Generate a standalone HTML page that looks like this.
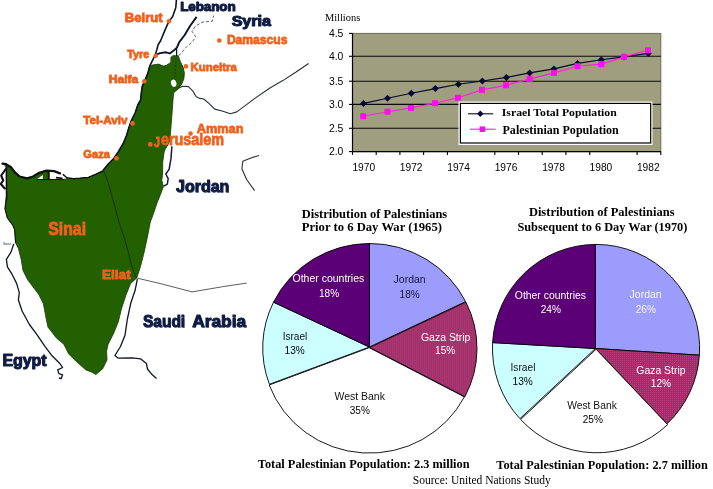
<!DOCTYPE html>
<html><head><meta charset="utf-8"><title>Map and charts</title>
<style>
html,body{margin:0;padding:0;background:#fff;}
body{width:713px;height:489px;overflow:hidden;font-family:"Liberation Sans",sans-serif;}
svg{display:block;font-family:"Liberation Sans",sans-serif;will-change:transform;}
</style></head><body>
<svg width="713" height="489" viewBox="0 0 713 489">
<rect width="713" height="489" fill="#fff"/>
<g>
<path d="M172.6,55.7 L178.2,55.7 L180.5,61.9 L183.3,67.5 L184.4,73.1 L183.9,78.7 L181.6,84.4 L178.2,88.9 L173.7,92.8 L173.0,100.0 L172.7,103.9 L171.8,116.8 L170.9,127.9 L169.9,140.7 L167.2,146.3 L164.4,151.0 L162.7,162.0 L162.7,173.1 L161.8,180.5 L163.6,186.0 L160.9,193.4 L157.2,202.6 L153.5,213.6 L150.3,222.0 L147.9,234.7 L144.2,251.9 L140.5,266.6 L136.8,277.9 L130.6,283.5 L126.1,294.8 L121.6,308.3 L118.3,321.8 L113.8,333.0 L108.1,344.3 L106.6,351.0 L107.0,360.0 L102.5,369.0 L95.8,374.6 L92.4,372.4 L85.9,369.9 L76.1,361.3 L68.7,354.0 L63.8,344.2 L56.4,338.0 L47.9,327.0 L45.4,314.7 L45.1,312.8 L43.3,303.6 L38.7,294.4 L33.1,287.0 L27.6,279.7 L23.0,270.5 L21.2,259.4 L18.4,248.4 L15.6,242.9 L14.7,230.0 L12.9,225.5 L7.4,218.1 L5.0,208.9 L5.5,201.5 L7.4,190.5 L6.4,179.4 L6.7,167.3 L3.0,163.4 L6.1,164.2 L11.0,167.3 L14.7,172.2 L19.6,176.5 L27.0,178.3 L33.1,176.5 L39.3,172.8 L46.6,170.7 L49.4,171.0 L49.2,179.4 L64.0,179.4 L66.9,178.6 L73.6,178.8 L80.0,178.4 L88.3,177.6 L95.5,174.6 L102.9,171.3 L108.5,164.5 L113.9,158.6 L118.5,151.5 L123.2,143.5 L126.5,135.6 L128.5,128.9 L131.1,121.0 L135.1,113.0 L137.8,105.0 L140.6,100.0 L141.1,94.5 L142.2,86.6 L145.1,79.9 L147.9,73.1 L149.6,66.4 L152.4,65.0 L158.6,64.1 L160.8,65.0 L163.6,66.1 L166.4,65.2 L169.2,63.6 L170.9,61.9 L170.9,57.4Z" fill="#236001" stroke="#1a3a0a" stroke-width="0.8" stroke-linejoin="round"/>
<path d="M37,179.2 L42.8,179.2 L42.8,175 Z" fill="#fff"/>
<path d="M167.4,146.4 L171.9,146.4 L171.0,158.4 L169.1,169.4 L165.8,174.0 L168.2,178.6 L167.3,184.2 L163.8,186.2 L162.8,180.5 L163.9,173.1 L164.0,162.0 L165.0,151.0Z" fill="#fff"/>
<path d="M171.9,146.4 L171.0,158.4 L169.1,169.4 L165.8,174.0 L168.2,178.6 L167.3,184.2 L163.8,186.2" fill="none" stroke="#141c40" stroke-width="1.5" stroke-linejoin="round"/>
<ellipse cx="173.7" cy="83.2" rx="2.7" ry="3.7" fill="#fff" transform="rotate(-15 173.7 83.2)"/>
<path d="M176.4,0.0 L175.8,7.4 L172.7,16.6 L169.0,21.2 L165.3,29.4 L160.7,40.5 L158.0,45.0 L156.9,49.5 L155.2,55.1 L152.4,60.7 L149.6,66.4 L147.9,73.1 L145.1,79.9 L142.2,86.6 L141.1,94.5 L140.6,100.0 L137.8,105.0 L135.1,113.0 L131.1,121.0 L128.5,128.9 L126.5,135.6 L123.2,143.5 L118.5,151.5 L113.9,158.2 L108.5,163.8 L102.9,170.6" fill="none" stroke="#101426" stroke-width="1.6" stroke-linejoin="round"/>
<path d="M155.7,54.6 L160.2,53.1 L165.9,52.3 L169.8,53.4 L173.7,50.6 L176.8,47.8 L179.1,42.3 L184.7,35.0 L190.2,25.8 L196.6,16.9" fill="none" stroke="#101426" stroke-width="1.9" stroke-linejoin="round"/>
<path d="M176.6,49 L176.6,56" stroke="#101426" stroke-width="1.2"/>
<path d="M176,58 L174.9,78" stroke="#173a0c" stroke-width="0.9" stroke-dasharray="2 1.5" fill="none"/>
<path d="M178.8,55.7 L186.5,46.9 L192.0,42.3 L195.7,36.8 L192.0,31.3 L195.7,25.8 L203.0,22.0 L212.3,21.2 L213.7,15.6" fill="none" stroke="#454c6c" stroke-width="0.9" stroke-dasharray="3 2"/>
<path d="M178.2,88.3 L182.7,86.2 L188.4,86.6 L192.9,91.1 L196.2,96.7 L200.0,98.4 L203.7,99.0 L209.2,103.6 L214.7,109.1 L222.1,111.0 L230.4,113.7 L236.8,111.9 L244.2,106.4 L255.2,98.1 L269.9,88.0 L282.8,80.6 L295.7,72.3 L308.6,63.5" fill="none" stroke="#2a2d3c" stroke-width="1.1" stroke-linejoin="round"/>
<path d="M259.1,155.4 L250.9,158.0 L242.8,161.2 L241.9,168.7 L246.6,179.5 L254.6,190.6" fill="none" stroke="#2a2d3c" stroke-width="1.1" stroke-linejoin="round"/>
<path d="M137.3,278.2 L161.3,283.8 L192.0,291.9 L222.7,286.7 L246.7,283.1" fill="none" stroke="#4a4a4a" stroke-width="0.9"/>
<path d="M137.4,279.0 L135.1,290.3 L130.6,303.8 L127.3,319.5 L125.0,335.3 L120.5,346.5 L114.9,355.5 L118.3,358.2 L131.8,357.8 L140.8,358.9 L146.4,363.4 L147.5,369.0 L152.0,374.6 L156.5,378.5" fill="none" stroke="#101426" stroke-width="1.3" stroke-linejoin="round"/>
<path d="M13.8,243.8 L11.0,252.1 L6.4,259.4 L7.4,266.8 L12.0,274.2 L16.6,283.4 L19.3,292.6 L18.4,300.0 L22.1,311.0 L29.4,324.5 L36.8,334.4 L44.2,345.4 L51.5,355.2 L60.1,363.8 L62.6,367.5 L57.7,369.9 L58.9,373.6 L62.6,374.8 L61.3,378.5 L58.9,378.0" fill="none" stroke="#101426" stroke-width="1.3" stroke-linejoin="round"/>
<path d="M103.8,171.3 L107.5,180.5 L111.2,193.4 L114.8,206.3 L117.6,217.3 L120.4,226.5 L123.3,234.7 L128.2,251.9 L131.9,266.6 L136.3,277.7" fill="none" stroke="#112a08" stroke-width="0.8"/>
<path d="M2.5,163.6 L6.1,164.2 L11.0,167.3 L14.7,172.2 L19.6,176.5 L27.0,178.3 L33.1,176.5 L39.3,172.8 L46.6,170.7 L54.0,171.2 L60.1,173.4" fill="none" stroke="#111" stroke-width="2.3" stroke-linejoin="round" stroke-linecap="round"/>
<path d="M63.2,174.6 L66.9,177.7 L73.6,178.6 L80.0,178.3 L88.3,177.4 L95.5,174.4 L102.9,171.0" fill="none" stroke="#111" stroke-width="1.4" stroke-linejoin="round" stroke-linecap="round"/>
<path d="M48.3,172 L48.6,178.8 M56,177.6 L62.5,178.4" stroke="#111" stroke-width="1.6" fill="none"/>
<path d="M36.8,179.5 L64.0,179.6" fill="none" stroke="#111" stroke-width="1" />
<path d="M6.3,166 L6.6,200" stroke="#111" stroke-width="1.5" fill="none"/>
<path d="M5.8,169 L1.2,175.5 L3.2,180.5 L0.8,184 L4.8,188.5" stroke="#111" stroke-width="2.1" fill="none" stroke-linejoin="round" stroke-linecap="round"/>
<path d="M6.4,200.0 L5.0,208.9 L7.4,218.1 L12.9,225.5 L14.7,230.0 L15.6,242.9" fill="none" stroke="#111" stroke-width="1.0"/>
<circle cx="169" cy="21.2" r="2.3" fill="#f3601b"/>
<circle cx="155.7" cy="55.7" r="2.3" fill="#f3601b"/>
<circle cx="144.3" cy="81.2" r="2.3" fill="#f3601b"/>
<circle cx="185.9" cy="66.4" r="2.3" fill="#f3601b"/>
<circle cx="219.3" cy="40.5" r="2.3" fill="#f3601b"/>
<circle cx="132.5" cy="123.4" r="2.3" fill="#f3601b"/>
<circle cx="116.5" cy="158.2" r="2.3" fill="#f3601b"/>
<circle cx="150.3" cy="144.4" r="2.3" fill="#f3601b"/>
<circle cx="190.5" cy="133.6" r="2.3" fill="#f3601b"/>
<text x="124.8" y="22.2" font-size="11.9" font-weight="bold" fill="#f3601b" textLength="37.8" lengthAdjust="spacingAndGlyphs" stroke="#f3601b" stroke-width="0.8" stroke-linejoin="round">Beirut</text>
<text x="127.2" y="57.7" font-size="11" font-weight="bold" fill="#f3601b" textLength="22.1" lengthAdjust="spacingAndGlyphs" stroke="#f3601b" stroke-width="0.8" stroke-linejoin="round">Tyre</text>
<text x="108.8" y="82.5" font-size="10.8" font-weight="bold" fill="#f3601b" textLength="29.5" lengthAdjust="spacingAndGlyphs" stroke="#f3601b" stroke-width="0.8" stroke-linejoin="round">Haifa</text>
<text x="190.6" y="71.1" font-size="11" font-weight="bold" fill="#f3601b" textLength="46.2" lengthAdjust="spacingAndGlyphs" stroke="#f3601b" stroke-width="0.8" stroke-linejoin="round">Kuneitra</text>
<text x="226.9" y="44.3" font-size="12.9" font-weight="bold" fill="#f3601b" textLength="60.5" lengthAdjust="spacingAndGlyphs" stroke="#f3601b" stroke-width="0.8" stroke-linejoin="round">Damascus</text>
<text x="83.3" y="124.4" font-size="11.5" font-weight="bold" fill="#f3601b" textLength="44.1" lengthAdjust="spacingAndGlyphs" stroke="#f3601b" stroke-width="0.8" stroke-linejoin="round">Tel-Aviv</text>
<text x="83.3" y="158.3" font-size="11.5" font-weight="bold" fill="#f3601b" textLength="26.6" lengthAdjust="spacingAndGlyphs" stroke="#f3601b" stroke-width="0.8" stroke-linejoin="round">Gaza</text>
<text x="196.8" y="132.5" font-size="13" font-weight="bold" fill="#f3601b" textLength="46.6" lengthAdjust="spacingAndGlyphs" stroke="#f3601b" stroke-width="0.8" stroke-linejoin="round">Amman</text>
<text x="153.9" y="147.0" font-size="14.5" font-weight="bold" fill="#f3601b" textLength="6.0" lengthAdjust="spacingAndGlyphs" stroke="#f3601b" stroke-width="0.8" stroke-linejoin="round">J</text>
<text x="160.9" y="145.3" font-size="16.8" font-weight="bold" fill="#f3601b" textLength="63.2" lengthAdjust="spacingAndGlyphs" stroke="#f3601b" stroke-width="0.8" stroke-linejoin="round">erusalem</text>
<text x="48.2" y="234.5" font-size="18" font-weight="bold" fill="#f3601b" textLength="37.9" lengthAdjust="spacingAndGlyphs" stroke="#f3601b" stroke-width="0.8" stroke-linejoin="round">Sinai</text>
<text x="102" y="279.3" font-size="12" font-weight="bold" fill="#f3601b" textLength="28.7" lengthAdjust="spacingAndGlyphs" stroke="#f3601b" stroke-width="0.8" stroke-linejoin="round">Eilat</text>
<text x="180.89999999999998" y="11.1" font-size="12.9" font-weight="bold" fill="#5060a8" opacity="0.6" textLength="55.4" lengthAdjust="spacingAndGlyphs">Lebanon</text>
<text x="180.2" y="10.6" font-size="12.9" font-weight="bold" fill="#0f1c40" textLength="55.4" lengthAdjust="spacingAndGlyphs" stroke="#0f1c40" stroke-width="1.0" stroke-linejoin="round">Lebanon</text>
<text x="232.39999999999998" y="26.1" font-size="14.6" font-weight="bold" fill="#5060a8" opacity="0.6" textLength="39.2" lengthAdjust="spacingAndGlyphs">Syria</text>
<text x="231.7" y="25.6" font-size="14.6" font-weight="bold" fill="#0f1c40" textLength="39.2" lengthAdjust="spacingAndGlyphs" stroke="#0f1c40" stroke-width="1.0" stroke-linejoin="round">Syria</text>
<text x="176.79999999999998" y="192.7" font-size="16.4" font-weight="bold" fill="#5060a8" opacity="0.6" textLength="53.3" lengthAdjust="spacingAndGlyphs">Jordan</text>
<text x="176.1" y="192.2" font-size="16.4" font-weight="bold" fill="#0f1c40" textLength="53.3" lengthAdjust="spacingAndGlyphs" stroke="#0f1c40" stroke-width="1.0" stroke-linejoin="round">Jordan</text>
<text x="143.6" y="327.5" font-size="16.8" font-weight="bold" fill="#5060a8" opacity="0.6" textLength="42.3" lengthAdjust="spacingAndGlyphs">Saudi</text>
<text x="142.9" y="327.0" font-size="16.8" font-weight="bold" fill="#0f1c40" textLength="42.3" lengthAdjust="spacingAndGlyphs" stroke="#0f1c40" stroke-width="1.0" stroke-linejoin="round">Saudi</text>
<text x="192.89999999999998" y="327.5" font-size="16.8" font-weight="bold" fill="#5060a8" opacity="0.6" textLength="53.9" lengthAdjust="spacingAndGlyphs">Arabia</text>
<text x="192.2" y="327.0" font-size="16.8" font-weight="bold" fill="#0f1c40" textLength="53.9" lengthAdjust="spacingAndGlyphs" stroke="#0f1c40" stroke-width="1.0" stroke-linejoin="round">Arabia</text>
<text x="3.2" y="366.4" font-size="16" font-weight="bold" fill="#5060a8" opacity="0.6" textLength="44.1" lengthAdjust="spacingAndGlyphs">Egypt</text>
<text x="2.5" y="365.9" font-size="16" font-weight="bold" fill="#0f1c40" textLength="44.1" lengthAdjust="spacingAndGlyphs" stroke="#0f1c40" stroke-width="1.0" stroke-linejoin="round">Egypt</text>
<text x="3" y="244.5" font-size="3.5" fill="#223">Suez</text>
<rect x="352.5" y="33.4" width="308.29999999999995" height="118.19999999999999" fill="#9f9e7f" stroke="#6e6d55" stroke-width="1"/>
<path d="M349.0,33.4 H352.5" stroke="#000" stroke-width="1.1"/>
<path d="M352.5,56.3 H660.8" stroke="#0a0a0a" stroke-width="1.1"/>
<path d="M349.0,56.3 H352.5" stroke="#000" stroke-width="1.1"/>
<path d="M352.5,81.2 H660.8" stroke="#0a0a0a" stroke-width="1.1"/>
<path d="M349.0,81.2 H352.5" stroke="#000" stroke-width="1.1"/>
<path d="M352.5,104.4 H660.8" stroke="#0a0a0a" stroke-width="1.1"/>
<path d="M349.0,104.4 H352.5" stroke="#000" stroke-width="1.1"/>
<path d="M352.5,128.3 H660.8" stroke="#0a0a0a" stroke-width="1.1"/>
<path d="M349.0,128.3 H352.5" stroke="#000" stroke-width="1.1"/>
<path d="M349.0,151.6 H352.5" stroke="#000" stroke-width="1.1"/>
<path d="M352.5,33.4 V151.6 H660.8" stroke="#000" stroke-width="1.2" fill="none"/>
<path d="M352.5,151.6 V154.9" stroke="#000" stroke-width="1.1"/>
<path d="M376.2,151.6 V154.9" stroke="#000" stroke-width="1.1"/>
<path d="M399.9,151.6 V154.9" stroke="#000" stroke-width="1.1"/>
<path d="M423.6,151.6 V154.9" stroke="#000" stroke-width="1.1"/>
<path d="M447.4,151.6 V154.9" stroke="#000" stroke-width="1.1"/>
<path d="M494.8,151.6 V154.9" stroke="#000" stroke-width="1.1"/>
<path d="M518.5,151.6 V154.9" stroke="#000" stroke-width="1.1"/>
<path d="M542.2,151.6 V154.9" stroke="#000" stroke-width="1.1"/>
<path d="M565.9,151.6 V154.9" stroke="#000" stroke-width="1.1"/>
<path d="M589.7,151.6 V154.9" stroke="#000" stroke-width="1.1"/>
<path d="M637.1,151.6 V154.9" stroke="#000" stroke-width="1.1"/>
<path d="M660.8,151.6 V154.9" stroke="#000" stroke-width="1.1"/>
<text x="343.4" y="37.1" font-size="10.4" text-anchor="end" fill="#000">4.5</text>
<text x="343.4" y="60.0" font-size="10.4" text-anchor="end" fill="#000">4.0</text>
<text x="343.4" y="84.9" font-size="10.4" text-anchor="end" fill="#000">3.5</text>
<text x="343.4" y="108.1" font-size="10.4" text-anchor="end" fill="#000">3.0</text>
<text x="343.4" y="132.0" font-size="10.4" text-anchor="end" fill="#000">2.5</text>
<text x="343.4" y="155.3" font-size="10.4" text-anchor="end" fill="#000">2.0</text>
<text x="363.8" y="170.6" font-size="10.2" text-anchor="middle" fill="#000">1970</text>
<text x="411.2" y="170.6" font-size="10.2" text-anchor="middle" fill="#000">1972</text>
<text x="458.6" y="170.6" font-size="10.2" text-anchor="middle" fill="#000">1974</text>
<text x="506.0" y="170.6" font-size="10.2" text-anchor="middle" fill="#000">1976</text>
<text x="553.5" y="170.6" font-size="10.2" text-anchor="middle" fill="#000">1978</text>
<text x="600.9" y="170.6" font-size="10.2" text-anchor="middle" fill="#000">1980</text>
<text x="648.3" y="170.6" font-size="10.2" text-anchor="middle" fill="#000">1982</text>
<text x="324.9" y="20.7" font-size="10.4" font-family="Liberation Serif" textLength="35.3" lengthAdjust="spacingAndGlyphs">Millions</text>
<path d="M363.5,103.4 L387.5,98.2 L411.3,93.3 L435.3,88.6 L458.4,84.3 L482.4,81.0 L506.4,77.4 L529.6,72.9 L553.9,68.9 L577.5,63.4 L601.3,59.8 L624.0,56.9 L648.3,53.4" fill="none" stroke="#080828" stroke-width="1.1"/>
<path d="M363.5,99.9 L367.0,103.4 L363.5,106.9 L360.0,103.4Z" fill="#080838"/>
<path d="M387.5,94.7 L391.0,98.2 L387.5,101.7 L384.0,98.2Z" fill="#080838"/>
<path d="M411.3,89.8 L414.8,93.3 L411.3,96.8 L407.8,93.3Z" fill="#080838"/>
<path d="M435.3,85.1 L438.8,88.6 L435.3,92.1 L431.8,88.6Z" fill="#080838"/>
<path d="M458.4,80.8 L461.9,84.3 L458.4,87.8 L454.9,84.3Z" fill="#080838"/>
<path d="M482.4,77.5 L485.9,81.0 L482.4,84.5 L478.9,81.0Z" fill="#080838"/>
<path d="M506.4,73.9 L509.9,77.4 L506.4,80.9 L502.9,77.4Z" fill="#080838"/>
<path d="M529.6,69.4 L533.1,72.9 L529.6,76.4 L526.1,72.9Z" fill="#080838"/>
<path d="M553.9,65.4 L557.4,68.9 L553.9,72.4 L550.4,68.9Z" fill="#080838"/>
<path d="M577.5,59.9 L581.0,63.4 L577.5,66.9 L574.0,63.4Z" fill="#080838"/>
<path d="M601.3,56.3 L604.8,59.8 L601.3,63.3 L597.8,59.8Z" fill="#080838"/>
<path d="M624,53.4 L627.5,56.9 L624,60.4 L620.5,56.9Z" fill="#080838"/>
<path d="M648.3,49.9 L651.8,53.4 L648.3,56.9 L644.8,53.4Z" fill="#080838"/>
<path d="M363.2,116.2 L387.5,111.7 L411.0,107.9 L435.0,103.2 L458.0,97.8 L482.0,89.9 L506.0,85.2 L529.6,79.1 L554.0,72.9 L577.5,66.2 L601.3,64.1 L624.0,56.9 L648.0,50.3" fill="none" stroke="#ff20e0" stroke-width="1.1"/>
<rect x="360.2" y="113.2" width="6" height="6" fill="#ff0cf0"/>
<rect x="384.5" y="108.7" width="6" height="6" fill="#ff0cf0"/>
<rect x="408" y="104.9" width="6" height="6" fill="#ff0cf0"/>
<rect x="432" y="100.2" width="6" height="6" fill="#ff0cf0"/>
<rect x="455" y="94.8" width="6" height="6" fill="#ff0cf0"/>
<rect x="479" y="86.9" width="6" height="6" fill="#ff0cf0"/>
<rect x="503" y="82.2" width="6" height="6" fill="#ff0cf0"/>
<rect x="526.6" y="76.1" width="6" height="6" fill="#ff0cf0"/>
<rect x="551" y="69.9" width="6" height="6" fill="#ff0cf0"/>
<rect x="574.5" y="63.2" width="6" height="6" fill="#ff0cf0"/>
<rect x="598.3" y="61.099999999999994" width="6" height="6" fill="#ff0cf0"/>
<rect x="621" y="53.9" width="6" height="6" fill="#ff0cf0"/>
<rect x="645" y="47.3" width="6" height="6" fill="#ff0cf0"/>
<rect x="458.5" y="101.5" width="194" height="43.5" fill="#fff"/>
<rect x="460.4" y="103.4" width="190.3" height="39.6" fill="#fff" stroke="#000" stroke-width="1.2"/>
<path d="M467.9,113.8 H493.2" stroke="#080828" stroke-width="1.1"/>
<path d="M480.3,110.6 L483.5,113.8 L480.3,117 L477.1,113.8Z" fill="#080838"/>
<path d="M470,129.2 H495.7" stroke="#ff20e0" stroke-width="1.1"/>
<rect x="479.6" y="126.4" width="5.6" height="5.6" fill="#ff0cf0"/>
<text x="501.8" y="116.2" font-size="10.2" font-weight="bold" font-family="Liberation Serif" textLength="115" lengthAdjust="spacingAndGlyphs">Israel Total Population</text>
<text x="502.5" y="133.6" font-size="12" font-weight="bold" font-family="Liberation Serif" textLength="116.3" lengthAdjust="spacingAndGlyphs">Palestinian Population</text>
<defs><pattern id="gz" width="2" height="2" patternUnits="userSpaceOnUse"><rect width="2" height="2" fill="#9b3067"/><rect width="1" height="1" fill="#c03c80"/></pattern></defs>
<path d="M369.4,347.0 L369.4,243.5 A107.0,104.5 0 0 1 465.6,301.6Z" fill="#9c9cfd" stroke="#000" stroke-width="0.9" stroke-linejoin="round"/>
<path d="M369.4,347.0 L465.6,301.6 A107.0,104.5 0 0 1 464.6,396.2Z" fill="url(#gz)" stroke="#000" stroke-width="0.9" stroke-linejoin="round" transform="translate(0.3,0.5)"/>
<path d="M369.4,347.0 L464.6,396.2 A107.0,104.5 0 0 1 269.4,384.3Z" fill="#ffffff" stroke="#000" stroke-width="0.9" stroke-linejoin="round" transform="translate(-0.2,0.7)"/>
<path d="M369.4,347.0 L269.4,384.3 A107.0,104.5 0 0 1 273.5,302.2Z" fill="#ccffff" stroke="#000" stroke-width="0.9" stroke-linejoin="round"/>
<path d="M369.4,347.0 L273.5,302.2 A107.0,104.5 0 0 1 369.4,243.5Z" fill="#5b0076" stroke="#000" stroke-width="0.9" stroke-linejoin="round"/>
<path d="M595.4,348.5 L595.3,244.4 A103.6,103.8 0 0 1 699.4,355.2Z" fill="#9c9cfd" stroke="#000" stroke-width="0.9" stroke-linejoin="round"/>
<path d="M595.4,348.5 L699.4,355.2 A103.6,103.8 0 0 1 666.9,423.9Z" fill="url(#gz)" stroke="#000" stroke-width="0.9" stroke-linejoin="round"/>
<path d="M595.4,348.5 L666.9,423.9 A103.6,103.8 0 0 1 519.9,418.7Z" fill="#ffffff" stroke="#000" stroke-width="0.9" stroke-linejoin="round" transform="translate(0.7,0.75)"/>
<path d="M595.4,348.5 L519.9,418.7 A103.6,103.8 0 0 1 492.6,342.6Z" fill="#ccffff" stroke="#000" stroke-width="0.9" stroke-linejoin="round"/>
<path d="M595.4,348.5 L492.6,342.6 A103.6,103.8 0 0 1 595.3,244.4Z" fill="#5b0076" stroke="#000" stroke-width="0.9" stroke-linejoin="round"/>
<text x="328.4" y="281.8" font-size="10.2" text-anchor="middle" fill="#fff" textLength="71.8" lengthAdjust="spacingAndGlyphs">Other countries</text>
<text x="329.1" y="296.6" font-size="10.2" text-anchor="middle" fill="#fff" textLength="20.2" lengthAdjust="spacingAndGlyphs">18%</text>
<text x="409.6" y="282.9" font-size="10.2" text-anchor="middle" fill="#15153a" textLength="32" lengthAdjust="spacingAndGlyphs">Jordan</text>
<text x="409.7" y="297.6" font-size="10.2" text-anchor="middle" fill="#15153a" textLength="20.2" lengthAdjust="spacingAndGlyphs">18%</text>
<text x="445.7" y="340.5" font-size="10.2" text-anchor="middle" fill="#fff" textLength="49.5" lengthAdjust="spacingAndGlyphs">Gaza Strip</text>
<text x="445.2" y="354" font-size="10.2" text-anchor="middle" fill="#fff" textLength="20.2" lengthAdjust="spacingAndGlyphs">15%</text>
<text x="295.0" y="339.7" font-size="10.2" text-anchor="middle" fill="#111" textLength="24.7" lengthAdjust="spacingAndGlyphs">Israel</text>
<text x="294.7" y="353.6" font-size="10.2" text-anchor="middle" fill="#000" textLength="20.2" lengthAdjust="spacingAndGlyphs">13%</text>
<text x="359.7" y="400.2" font-size="10.2" text-anchor="middle" fill="#111" textLength="50.5" lengthAdjust="spacingAndGlyphs">West Bank</text>
<text x="359.8" y="413.7" font-size="10.2" text-anchor="middle" fill="#000" textLength="20.2" lengthAdjust="spacingAndGlyphs">35%</text>
<text x="550.4" y="298.6" font-size="10.2" text-anchor="middle" fill="#fff" textLength="71.2" lengthAdjust="spacingAndGlyphs">Other countries</text>
<text x="550.8" y="312.7" font-size="10.2" text-anchor="middle" fill="#fff" textLength="20.2" lengthAdjust="spacingAndGlyphs">24%</text>
<text x="645.6" y="298.4" font-size="10.2" text-anchor="middle" fill="#f4f4ff" textLength="32" lengthAdjust="spacingAndGlyphs">Jordan</text>
<text x="645.8" y="313" font-size="10.2" text-anchor="middle" fill="#f4f4ff" textLength="20.2" lengthAdjust="spacingAndGlyphs">26%</text>
<text x="660.9" y="373.6" font-size="10.2" text-anchor="middle" fill="#fff" textLength="49.2" lengthAdjust="spacingAndGlyphs">Gaza Strip</text>
<text x="660.9" y="387.3" font-size="10.2" text-anchor="middle" fill="#fff" textLength="20.2" lengthAdjust="spacingAndGlyphs">12%</text>
<text x="523.0" y="371" font-size="10.2" text-anchor="middle" fill="#111" textLength="24.9" lengthAdjust="spacingAndGlyphs">Israel</text>
<text x="522.7" y="385.4" font-size="10.2" text-anchor="middle" fill="#000" textLength="20.2" lengthAdjust="spacingAndGlyphs">13%</text>
<text x="592.0" y="408.8" font-size="10.2" text-anchor="middle" fill="#111" textLength="49.6" lengthAdjust="spacingAndGlyphs">West Bank</text>
<text x="592.8" y="423.1" font-size="10.2" text-anchor="middle" fill="#000" textLength="20.2" lengthAdjust="spacingAndGlyphs">25%</text>
<text x="301.7" y="217.5" font-size="12.4" font-family="Liberation Serif" font-weight="bold" textLength="145.5" lengthAdjust="spacingAndGlyphs" fill="#000">Distribution of Palestinians</text>
<text x="301.7" y="231.3" font-size="12.6" font-family="Liberation Serif" font-weight="bold" textLength="140.3" lengthAdjust="spacingAndGlyphs" fill="#000">Prior to 6 Day War (1965)</text>
<text x="528.9" y="216.4" font-size="12.4" font-family="Liberation Serif" font-weight="bold" textLength="145.6" lengthAdjust="spacingAndGlyphs" fill="#000">Distribution of Palestinians</text>
<text x="517.4" y="230.6" font-size="12.4" font-family="Liberation Serif" font-weight="bold" textLength="170" lengthAdjust="spacingAndGlyphs" fill="#000">Subsequent to 6 Day War (1970)</text>
<text x="257.8" y="468.4" font-size="12.3" font-family="Liberation Serif" font-weight="bold" textLength="211.8" lengthAdjust="spacingAndGlyphs" fill="#000">Total Palestinian Population: 2.3 million</text>
<text x="496.3" y="468.8" font-size="12.3" font-family="Liberation Serif" font-weight="bold" textLength="211.6" lengthAdjust="spacingAndGlyphs" fill="#000">Total Palestinian Population: 2.7 million</text>
<text x="412.8" y="483.6" font-size="11.8" font-family="Liberation Serif" font-weight="normal" textLength="138" lengthAdjust="spacingAndGlyphs" fill="#000">Source: United Nations Study</text>
</g>
</svg>
</body></html>
